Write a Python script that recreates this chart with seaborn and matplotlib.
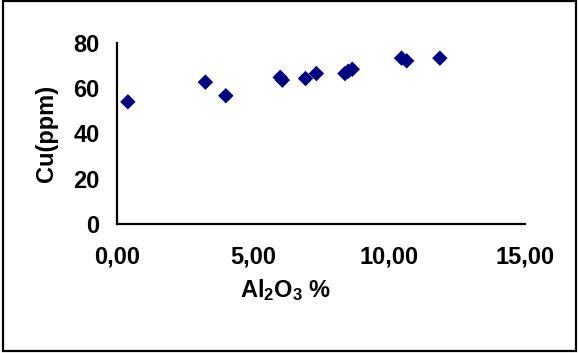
import numpy as np
import pandas as pd
import seaborn as sns
from matplotlib import pyplot as plt
from matplotlib.ticker import FuncFormatter
from matplotlib.patches import Rectangle

# Values
al2o3 = [0.40, 3.25, 4.00, 6.00, 6.08, 6.93, 7.33, 8.38, 8.50, 8.65, 10.46, 10.65, 11.87]
cu = [54.0, 62.7, 56.7, 64.8, 63.6, 64.3, 66.5, 66.5, 67.5, 68.4, 73.3, 72.1, 73.3]
x_ticks = [0, 5, 10, 15]
y_ticks = [0, 20, 40, 60, 80]

df = pd.DataFrame({'al2o3': al2o3, 'cu': cu})

sns.set_style('white')
plt.rcParams['font.family'] = ['Liberation Sans', 'DejaVu Sans']
plt.rcParams['font.weight'] = 'bold'
plt.rcParams['mathtext.fontset'] = 'custom'
plt.rcParams['mathtext.rm'] = 'Liberation Sans:bold'
plt.rcParams['mathtext.bf'] = 'Liberation Sans:bold'

fig = plt.figure(figsize=(5.8, 3.53), dpi=100)
ax = fig.add_axes([117 / 580, 1 - 224 / 353, 408 / 580, 181 / 353])

sns.scatterplot(x='al2o3', y='cu', data=df, ax=ax, marker='D', s=62,
                color='#000080', edgecolor='none', linewidth=0)

ax.set_xlim(0, 15)
ax.set_ylim(0, 80)
ax.set_xticks(x_ticks)
ax.set_yticks(y_ticks)
ax.xaxis.set_major_formatter(FuncFormatter(lambda v, p: f'{v:.2f}'.replace('.', ',')))

for side in ['top', 'right']:
    ax.spines[side].set_visible(False)
for side in ['left', 'bottom']:
    ax.spines[side].set_color('black')
    ax.spines[side].set_linewidth(1.6)

fs = 17
ax.tick_params(axis='both', direction='out', length=4.5, width=1.4, color='black',
               labelsize=fs, labelcolor='black')
ax.tick_params(axis='x', pad=11)
ax.tick_params(axis='y', pad=8)
for lab in ax.get_xticklabels() + ax.get_yticklabels():
    lab.set_fontweight('bold')

ax.set_xlabel(r'Al$\mathbf{_2}$O$\mathbf{_3}$ %', fontsize=fs, fontweight='bold', color='black')
ax.set_ylabel('Cu(ppm)', fontsize=fs, fontweight='bold', color='black')
ax.xaxis.set_label_coords(0.412, -0.365)
ax.yaxis.set_label_coords(-0.172, 0.5)
ax.xaxis.label.set_va('center')
ax.yaxis.label.set_va('center')

# outer chart frame
fig.patches.append(Rectangle((3 / 580, 2.5 / 353), 572.5 / 580, 349.5 / 353,
                             transform=fig.transFigure, fill=False,
                             edgecolor='black', linewidth=1.6))

fig.savefig('out.png', dpi=100)
